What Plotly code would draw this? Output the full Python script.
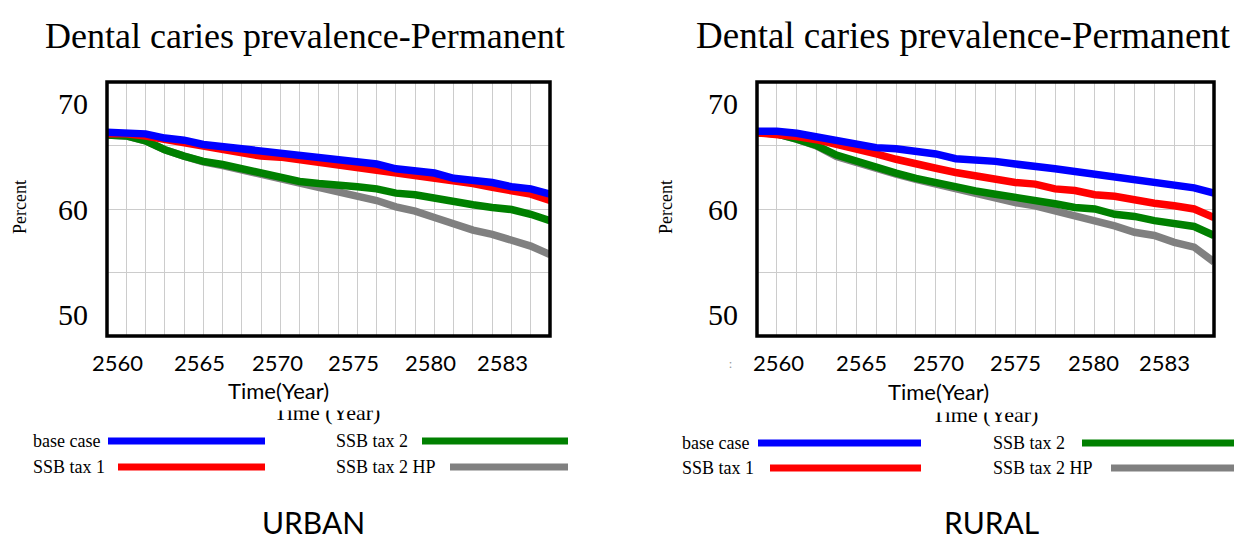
import plotly.graph_objects as go

# ---- data -------------------------------------------------------------
YEARS = list(range(2560, 2584))
SERIES_NAMES = ["base case", "SSB tax 1", "SSB tax 2", "SSB tax 2 HP"]
COLORS = ["#0000ff", "#ff0000", "#008000", "#808080"]

URBAN_BASE = [67.25, 67.25, 67.1, 66.7, 66.5, 66.1, 65.9, 65.6, 65.35, 65.2, 65.0, 64.8,
              64.6, 64.5, 64.25, 63.8, 63.6, 63.4, 62.9, 62.75, 62.5, 62.1, 61.9, 61.4]
URBAN_SSB1 = [67.1, 67.1, 66.9, 66.6, 66.3, 65.9, 65.6, 65.35, 65.0, 64.9, 64.65, 64.4,
              64.2, 64.0, 63.8, 63.45, 63.3, 62.9, 62.7, 62.4, 62.05, 61.7, 61.4, 60.8]
URBAN_SSB2 = [67.0, 66.9, 66.45, 65.6, 65.0, 64.5, 64.2, 63.8, 63.4, 63.0, 62.6, 62.4,
              62.3, 62.1, 61.9, 61.5, 61.35, 61.0, 60.8, 60.4, 60.15, 59.95, 59.5, 58.9]
URBAN_SSB2_HP = [67.0, 66.9, 66.45, 65.6, 65.0, 64.45, 64.1, 63.7, 63.3, 62.9, 62.35, 62.0,
                 61.65, 61.3, 60.8, 60.2, 59.8, 59.2, 58.6, 58.0, 57.6, 57.0, 56.5, 55.7]

RURAL_BASE = [67.35, 67.35, 67.15, 66.8, 66.45, 66.25, 65.8, 65.7, 65.45, 65.2, 64.75, 64.7,
              64.5, 64.25, 63.95, 63.8, 63.55, 63.3, 62.9, 62.75, 62.5, 62.2, 62.0, 61.5]
RURAL_SSB1 = [67.2, 67.1, 66.85, 66.55, 66.15, 65.7, 65.2, 64.7, 64.35, 63.85, 63.45, 63.1,
              62.9, 62.5, 62.35, 61.9, 61.75, 61.35, 61.2, 60.8, 60.55, 60.3, 60.0, 59.2]
RURAL_SSB2 = [67.2, 67.1, 66.6, 66.0, 65.1, 64.5, 63.95, 63.4, 62.9, 62.5, 61.95, 61.7,
              61.4, 61.1, 60.95, 60.5, 60.15, 60.0, 59.5, 59.3, 58.9, 58.6, 58.35, 57.5]
RURAL_SSB2_HP = [67.2, 67.1, 66.6, 65.95, 64.95, 64.35, 63.8, 63.3, 62.8, 62.35, 61.8, 61.5,
                 60.95, 60.6, 60.3, 59.85, 59.35, 58.95, 58.4, 57.8, 57.5, 56.85, 56.4, 55.0]

X_TICK_LABELS = ["2560", "2565", "2570", "2575", "2580", "2583"]
Y_TICKS = [50, 60, 70]
Y_GRID = [54, 60, 66]
Y_RANGE = [48, 72]

TITLE = "Dental caries prevalence-Permanent"
X_TITLE = "Time(Year)"
X_TITLE_OLD = "Time (Year)"
Y_TITLE = "Percent"

# ---- page geometry (pixels) -------------------------------------------
W, H = 1244, 541
SERIF = "Liberation Serif, Times New Roman, serif"
SANS = "Lato, Open Sans, sans-serif"


def px(x):
    return x / W


def py(y):
    return 1 - y / H


PANELS = [
    dict(label="URBAN", series=[URBAN_BASE, URBAN_SSB1, URBAN_SSB2, URBAN_SSB2_HP],
         frame=(107, 550), title_x=305, title_size=36, percent_x=20,
         tick_x=[117, 199, 277, 353, 430, 502], time_x=278, time_y=390,
         old_x=327, old_y=412, label_x=313,
         legend_text_x=[31, 31, 334, 334], legend_rows=[441, 467, 441, 467],
         legend_lines=[(108, 265), (118, 265), (422, 568), (450, 568)]),
    dict(label="RURAL", series=[RURAL_BASE, RURAL_SSB1, RURAL_SSB2, RURAL_SSB2_HP],
         frame=(757, 1214), title_x=963, title_size=37, percent_x=666,
         tick_x=[778, 861, 938, 1015, 1093, 1164], time_x=939, time_y=391,
         old_x=985, old_y=414, label_x=991,
         legend_text_x=[680, 680, 991, 991], legend_rows=[443, 468, 443, 468],
         legend_lines=[(758, 921), (770, 921), (1082, 1234), (1111, 1234)]),
]

FRAME_TOP, FRAME_BOTTOM = 82, 336

fig = go.Figure()
annotations = []
shapes = []

for i, p in enumerate(PANELS):
    xa = "x" if i == 0 else "x2"
    ya = "y" if i == 0 else "y2"
    # draw the policy scenarios first so the base case sits on top
    for k in [3, 2, 1, 0]:
        fig.add_trace(go.Scatter(
            x=YEARS, y=p["series"][k], name=SERIES_NAMES[k], mode="lines",
            line=dict(color=COLORS[k], width=7.5), xaxis=xa, yaxis=ya,
            showlegend=False, hoverinfo="x+y+name"))

    x0, x1 = p["frame"]
    axis_x = dict(domain=[px(x0), px(x1)], range=[YEARS[0], YEARS[-1]],
                  tick0=YEARS[0], dtick=1, showgrid=True, gridcolor="#cccccc",
                  gridwidth=1, showticklabels=False, ticks="", zeroline=False,
                  showline=False, anchor=ya, fixedrange=True)
    axis_y = dict(domain=[py(FRAME_BOTTOM), py(FRAME_TOP)], range=Y_RANGE,
                  tickmode="array", tickvals=Y_TICKS, ticktext=[str(v) for v in Y_TICKS],
                  showgrid=False, ticks="", zeroline=False, showline=False,
                  tickfont=dict(family=SERIF, size=30, color="black"),
                  ticklabelstandoff=18, anchor=xa, fixedrange=True,
                  minor=dict(tickmode="array", tickvals=Y_GRID, showgrid=True,
                             gridcolor="#cccccc", gridwidth=1, ticks=""))
    if i == 0:
        fig.update_layout(xaxis=axis_x, yaxis=axis_y)
    else:
        fig.update_layout(xaxis2=axis_x, yaxis2=axis_y)

    # black plot frame
    shapes.append(dict(type="rect", xref=f"{xa} domain", yref=f"{ya} domain",
                       x0=0, x1=1, y0=0, y1=1, line=dict(color="black", width=3.5),
                       layer="above"))

    # chart title
    annotations.append(dict(text=TITLE, x=px(p["title_x"]), y=py(36), xref="paper",
                            yref="paper", xanchor="center", yanchor="middle",
                            showarrow=False,
                            font=dict(family=SERIF, size=p["title_size"], color="black")))
    # y-axis title
    annotations.append(dict(text=Y_TITLE, x=px(p["percent_x"]), y=py(207), xref="paper",
                            yref="paper", xanchor="center", yanchor="middle",
                            textangle=-90, showarrow=False,
                            font=dict(family=SERIF, size=18, color="black")))
    # year labels under the frame
    for lab, tx in zip(X_TICK_LABELS, p["tick_x"]):
        annotations.append(dict(text=lab, x=px(tx), y=py(362), xref="paper", yref="paper",
                                xanchor="center", yanchor="middle", showarrow=False,
                                font=dict(family=SANS, size=22, color="black")))
    # older serif axis caption, mostly covered by a white box
    annotations.append(dict(text=X_TITLE_OLD, x=px(p["old_x"]), y=py(p["old_y"]),
                            xref="paper", yref="paper", xanchor="center",
                            yanchor="middle", showarrow=False,
                            font=dict(family=SERIF, size=22, color="black")))
    annotations.append(dict(text=" ", x=px(p["old_x"]), y=py(376), xref="paper",
                            yref="paper", xanchor="center", yanchor="top",
                            width=170, height=p["old_y"] - 376 - 5, bgcolor="white",
                            showarrow=False))
    # x-axis caption
    annotations.append(dict(text=X_TITLE, x=px(p["time_x"]), y=py(p["time_y"]),
                            xref="paper", yref="paper", xanchor="center",
                            yanchor="middle", showarrow=False,
                            font=dict(family=SANS, size=22, color="black")))
    # legend: name followed by a thick coloured bar
    for k in range(4):
        yy = p["legend_rows"][k]
        annotations.append(dict(text=SERIES_NAMES[k], x=px(p["legend_text_x"][k]),
                                y=py(yy), xref="paper", yref="paper", xanchor="left",
                                yanchor="middle", showarrow=False,
                                font=dict(family=SERIF, size=18, color="black")))
        lx0, lx1 = p["legend_lines"][k]
        shapes.append(dict(type="line", xref="paper", yref="paper", x0=px(lx0),
                           x1=px(lx1), y0=py(yy), y1=py(yy),
                           line=dict(color=COLORS[k], width=7)))
    # panel label
    annotations.append(dict(text=p["label"], x=px(p["label_x"]), y=py(522), xref="paper",
                            yref="paper", xanchor="center", yanchor="middle",
                            showarrow=False,
                            font=dict(family=SANS, size=30, color="black")))

annotations.append(dict(text=":", x=px(730), y=py(363), xref="paper", yref="paper",
                        xanchor="center", yanchor="middle", showarrow=False,
                        font=dict(family=SANS, size=12, color="#999999")))

fig.update_layout(
    width=W, height=H, margin=dict(l=0, r=0, t=0, b=0),
    paper_bgcolor="white", plot_bgcolor="white",
    annotations=annotations, shapes=shapes, showlegend=False,
)

fig.write_html("out.html")
